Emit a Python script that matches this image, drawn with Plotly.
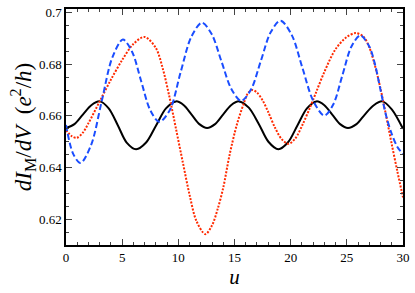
import plotly.graph_objects as go

# Black solid curve
u_black = [0.0, 0.75, 1.5, 2.25, 3.0, 3.8, 4.62, 5.4, 6.24, 7.13, 8.02, 8.9, 9.8, 10.49, 11.18, 11.87, 12.56, 13.27, 13.98, 14.69, 15.4, 16.27, 17.15, 18.02, 18.9, 19.75, 20.6, 21.45, 22.3, 23.0, 23.7, 24.4, 25.1, 25.86, 26.6, 27.4, 28.15, 29.0, 30.0]
v_black = [0.6553, 0.6568, 0.6605, 0.6641, 0.6656, 0.6629, 0.6563, 0.6497, 0.6471, 0.6497, 0.6563, 0.6629, 0.6656, 0.6641, 0.6605, 0.6568, 0.6553, 0.6568, 0.6605, 0.6641, 0.6656, 0.6632, 0.6570, 0.6500, 0.6471, 0.6497, 0.6563, 0.6629, 0.6656, 0.6641, 0.6605, 0.6568, 0.6553, 0.6568, 0.6605, 0.6641, 0.6656, 0.6625, 0.6550]

# Blue dashed curve
u_blue = [0.0, 0.65, 1.3, 2.24, 3.18, 4.12, 5.06, 5.87, 6.68, 7.49, 8.3, 9.25, 10.2, 11.15, 12.1, 12.98, 13.85, 14.73, 15.6, 16.48, 17.35, 18.22, 19.1, 20.1, 21.05, 22.0, 23.0, 23.8, 24.6, 25.4, 26.2, 27.0, 27.5, 28.0, 28.5, 29.0, 29.5, 30.0]
v_blue = [0.6565, 0.6452, 0.6418, 0.6488, 0.6657, 0.6825, 0.6895, 0.6849, 0.6736, 0.6623, 0.6577, 0.6623, 0.6768, 0.6905, 0.6960, 0.6915, 0.6809, 0.6703, 0.6658, 0.6703, 0.6813, 0.6923, 0.6968, 0.6912, 0.6785, 0.6659, 0.6601, 0.6645, 0.6756, 0.6867, 0.6911, 0.6868, 0.6800, 0.6700, 0.6600, 0.6530, 0.6480, 0.6453]

# Red dotted curve
u_red = [0.0, 0.5, 0.95, 1.5, 2.0, 3.0, 4.0, 5.0, 6.0, 7.0, 8.0, 8.6, 9.2, 9.8, 10.4, 11.0, 11.6, 12.4, 13.0, 13.5, 14.0, 14.56, 15.2, 15.8, 16.2, 16.6, 17.0, 17.5, 18.0, 18.6, 19.2, 19.8, 20.4, 21.1, 21.7, 22.3, 23.0, 24.0, 25.0, 25.8, 26.5, 27.0, 27.5, 28.0, 28.5, 29.0, 29.5, 30.0]
v_red = [0.6545, 0.6522, 0.6515, 0.6535, 0.6572, 0.6656, 0.6740, 0.6816, 0.6878, 0.6905, 0.6862, 0.6785, 0.6675, 0.6548, 0.6420, 0.6295, 0.6195, 0.6143, 0.6177, 0.6240, 0.6323, 0.6449, 0.6565, 0.6645, 0.6688, 0.6700, 0.6690, 0.6660, 0.6615, 0.6555, 0.6510, 0.6492, 0.6512, 0.6570, 0.6630, 0.6695, 0.6770, 0.6858, 0.6905, 0.6920, 0.6905, 0.6865, 0.6795, 0.6705, 0.6600, 0.6490, 0.6385, 0.6285]

x_ticks = [0, 5, 10, 15, 20, 25, 30]
y_ticks = [0.62, 0.64, 0.66, 0.68, 0.70]
y_tick_text = ["0.62", "0.64", "0.66", "0.68", "0.7"]
y_minor = [0.615, 0.625, 0.63, 0.635, 0.645, 0.65, 0.655, 0.665, 0.67, 0.675, 0.685, 0.69, 0.695]

fig = go.Figure()
fig.add_trace(go.Scatter(x=u_black, y=v_black, mode="lines", hoverinfo="skip",
                         line=dict(color="black", width=2, shape="spline", smoothing=0.9)))
fig.add_trace(go.Scatter(x=u_red, y=v_red, mode="lines", hoverinfo="skip",
                         line=dict(color="#ff2a00", width=2, dash="2px,1.5px", shape="spline", smoothing=0.9)))
fig.add_trace(go.Scatter(x=u_blue, y=v_blue, mode="lines", hoverinfo="skip",
                         line=dict(color="#1a4dff", width=2, dash="6px,3px", shape="spline", smoothing=0.9)))

font = dict(family="Liberation Serif", size=13, color="black")
fig.update_layout(
    width=415, height=293,
    margin=dict(l=66, r=9, t=5, b=48),
    paper_bgcolor="white", plot_bgcolor="white",
    showlegend=False,
    font=font,
)
fig.update_xaxes(
    range=[0, 30], tickvals=x_ticks, ticks="inside", ticklen=6, tickwidth=1.3,
    showline=True, linecolor="black", linewidth=1.5, mirror="allticks",
    showgrid=False, zeroline=False,
    minor=dict(ticks="inside", dtick=1, ticklen=3, tickwidth=1, showgrid=False),
    title=dict(text="<i>u</i>", font=dict(family="Liberation Serif", size=21, color="black"), standoff=3),
    tickfont=font,
)
fig.update_yaxes(
    range=[0.6101, 0.7013], tickvals=y_ticks, ticktext=y_tick_text,
    ticks="inside", ticklen=6, tickwidth=1.3,
    showline=True, linecolor="black", linewidth=1.5, mirror="allticks",
    showgrid=False, zeroline=False,
    minor=dict(ticks="inside", tickvals=y_minor, ticklen=3, tickwidth=1, showgrid=False),
    title=dict(text="<i>dI</i><sub>M</sub>/<i>dV</i>  (<i>e</i><sup>2</sup>/<i>h</i>)",
               font=dict(family="Liberation Serif", size=23, color="black"), standoff=1),
    tickfont=font,
)
fig.write_html("out.html", config={"displayModeBar": False},
               post_script="document.body.style.margin='0';document.body.style.overflow='hidden';")
